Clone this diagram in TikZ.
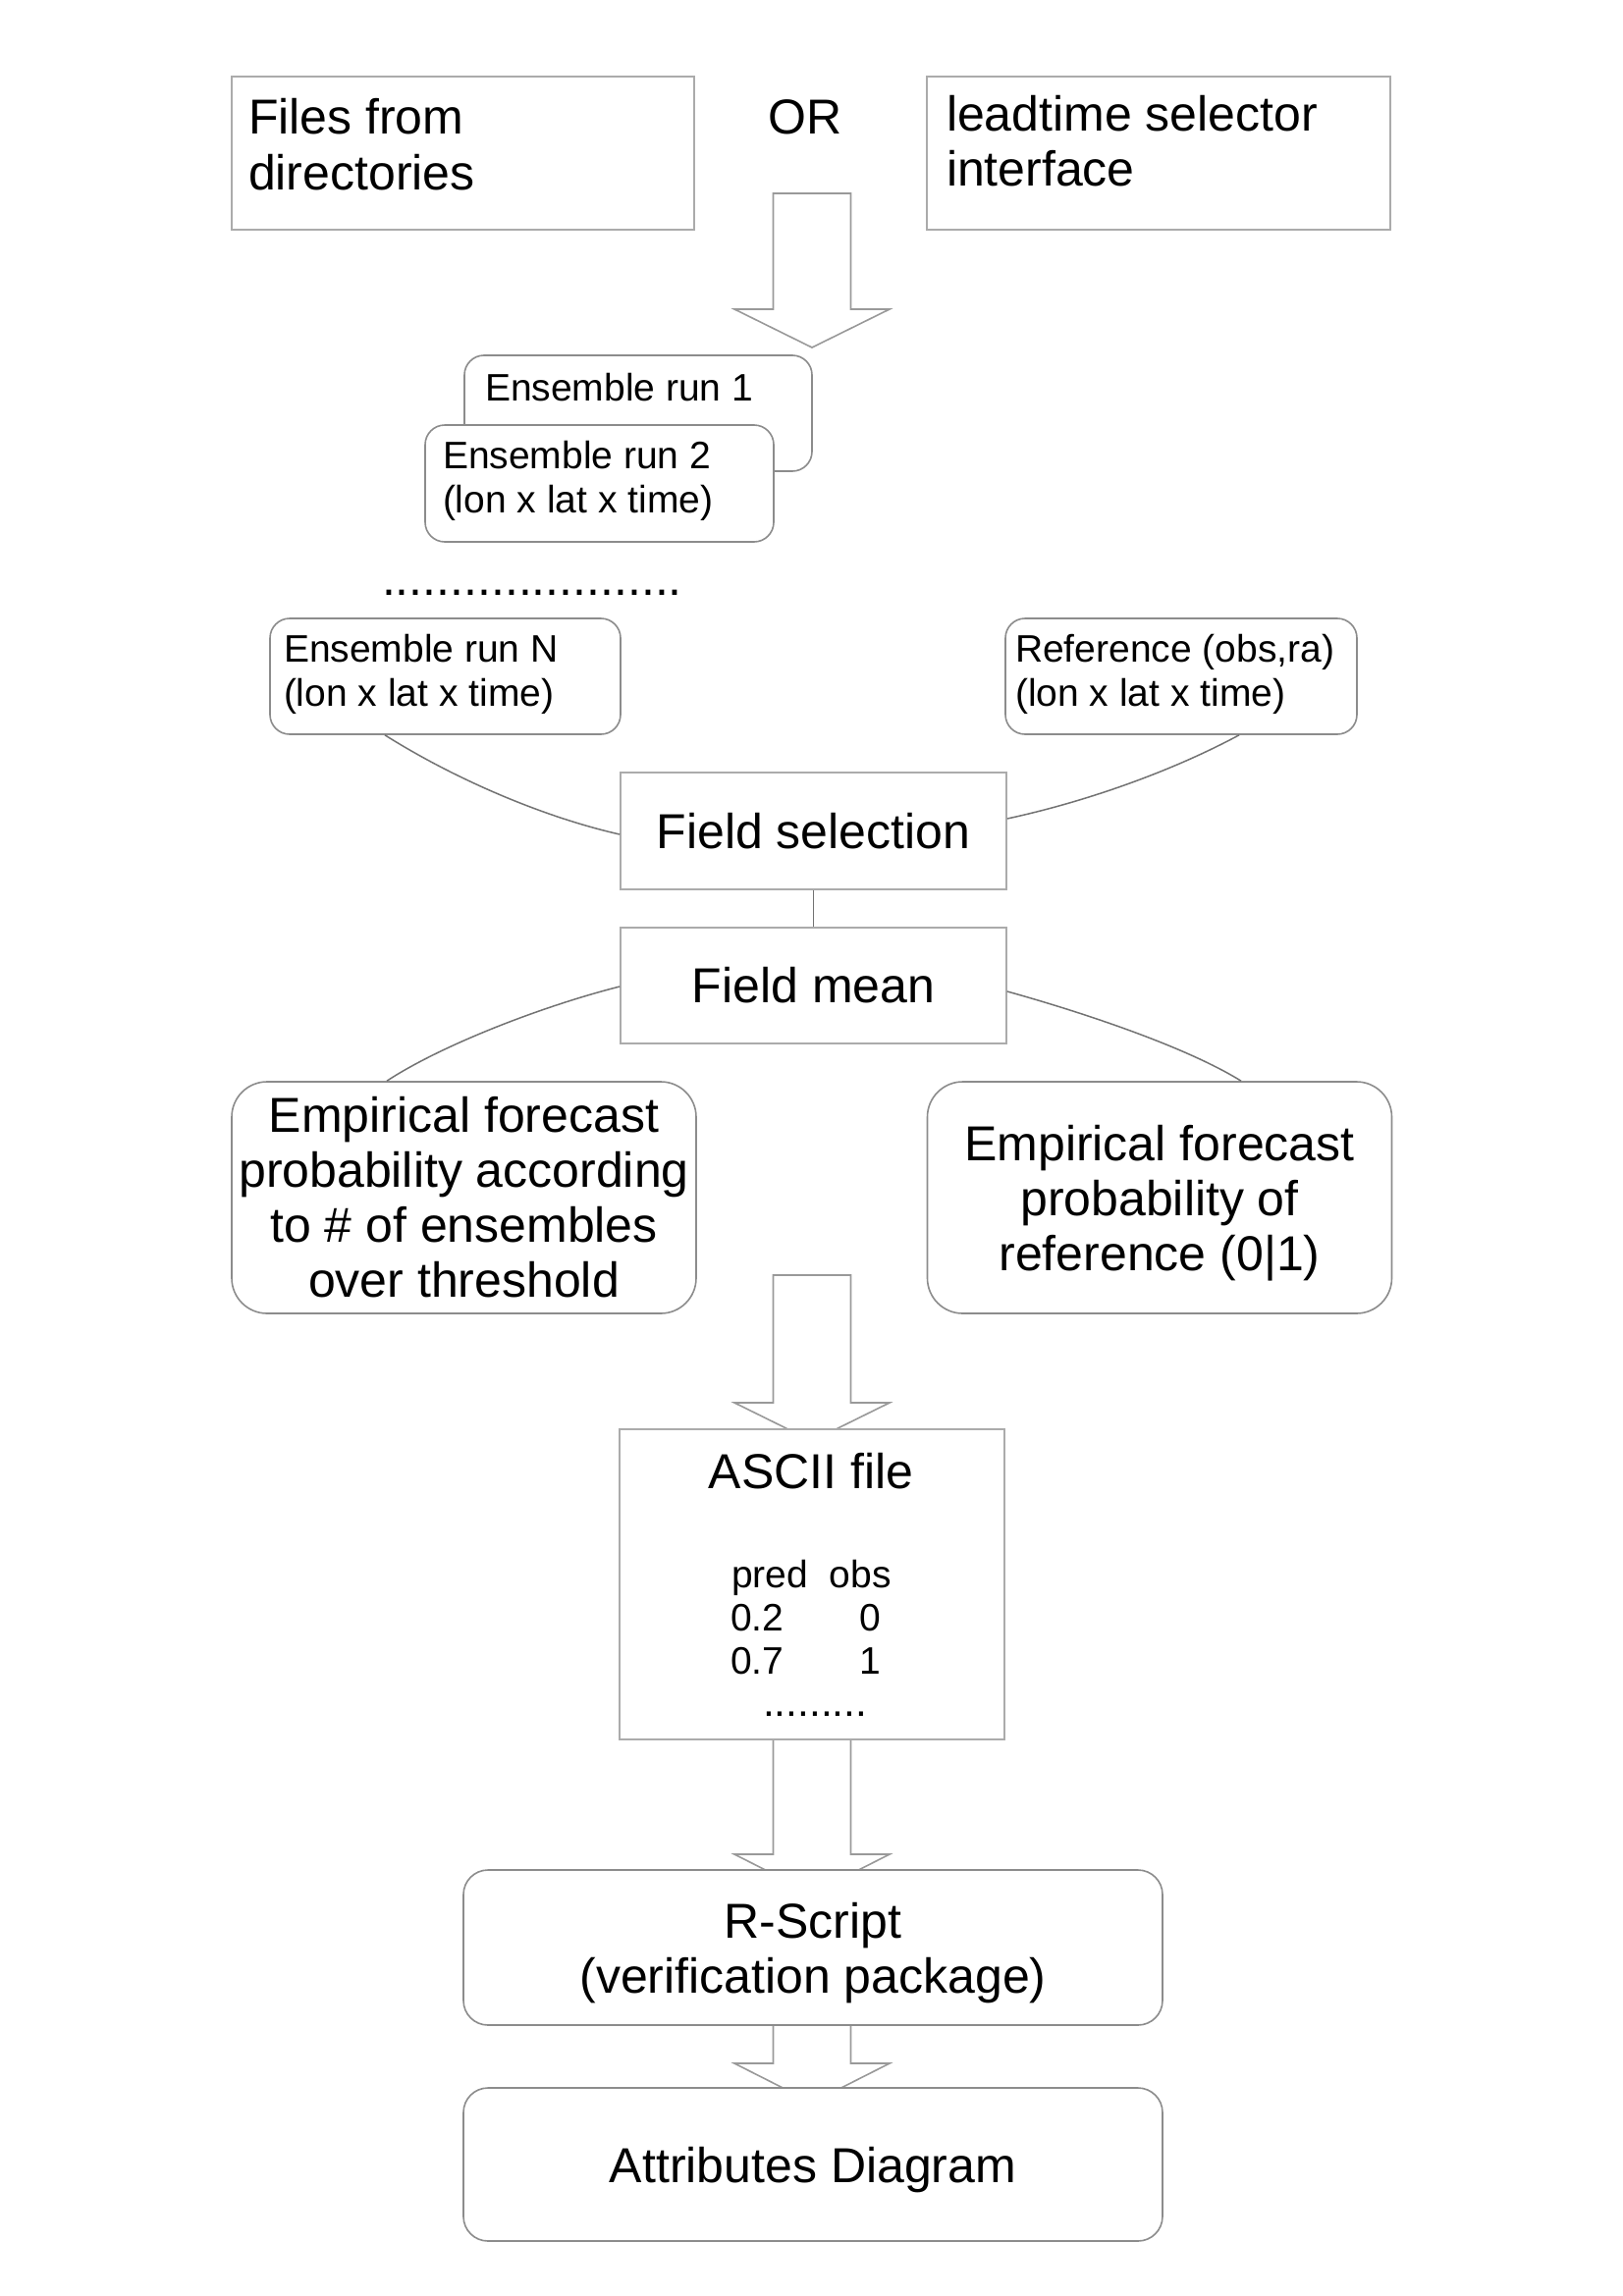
\documentclass[tikz,border=0pt]{standalone}
\usepackage{fontspec}
\setmainfont{Liberation Sans}
\usetikzlibrary{calc}
\pgfdeclarelayer{bg}
\pgfsetlayers{bg,main}
\newcommand\twolines[2]{\vtop{\hbox{#1}\hbox{#2}}}
\newcommand\blockarr[4]{%
  \begin{pgfonlayer}{bg}
  \draw[barrow] (#1-39.5,#2) -- (#1+39.5,#2) -- (#1+39.5,#3) -- (#1+79,#3)
     -- (#1,#4) -- (#1-79,#3) -- (#1-39.5,#3) -- cycle;
  \end{pgfonlayer}}
\tikzset{
  sqbox/.style={draw=black!33, line width=1.6pt, fill=white, inner sep=0pt},
  rndbox/.style={draw=black!45, line width=1.6pt, fill=white, inner sep=0pt, rounded corners=20pt},
  bigtxt/.style={font=\fontsize{50}{56}\selectfont},
  smalltxt/.style={font=\fontsize{39}{45}\selectfont},
  conn/.style={draw=black!55, line width=1.5pt},
  barrow/.style={draw=black!40, line width=1.6pt, fill=white, line join=miter},
  plain/.style={inner sep=0pt, outer sep=0pt}
}
\begin{document}
\begin{tikzpicture}[x=1pt,y=-1pt]
\useasboundingbox (0,0) rectangle (1653,2339);
\begin{pgfonlayer}{bg}
\fill[white] (0,0) rectangle (1653,2339);
\end{pgfonlayer}

% top row
\node[sqbox, minimum width=471pt, minimum height=156pt] (files) at (471.5,156) {};
\node[plain, bigtxt, anchor=base west] (filesT) at (253,137) {\twolines{Files from}{directories}};
\node[plain, bigtxt, anchor=base] (orT) at (820,137) {OR};
\node[sqbox, minimum width=472pt, minimum height=156pt] (lead) at (1180,156) {};
\node[plain, bigtxt, anchor=base west] (leadT) at (964,134) {\twolines{leadtime selector}{interface}};

% block arrow 1
\blockarr{827}{197}{315}{354}

% ensemble runs
\node[rndbox, minimum width=354pt, minimum height=118pt] (ens1) at (650,421) {};
\node[plain, smalltxt, anchor=base west] (ens1T) at (494,408) {Ensemble run 1};
\node[rndbox, minimum width=355pt, minimum height=119pt] (ens2) at (610.5,492.5) {};
\node[plain, smalltxt, anchor=base west] (ens2T) at (451,477) {\twolines{Ensemble run 2}{(lon x lat x time)}};

\node[plain, anchor=base west, font=\fontsize{50}{56}\selectfont] (dots) at (389,606) {......................};

\node[rndbox, minimum width=357pt, minimum height=118pt] (ensN) at (453.5,689) {};
\node[plain, smalltxt, anchor=base west] (ensNT) at (289,674) {\twolines{Ensemble run N}{(lon x lat x time)}};
\node[rndbox, minimum width=358pt, minimum height=118pt] (ref) at (1203,689) {};
\node[plain, smalltxt, anchor=base west] (refT) at (1034,674) {\twolines{Reference (obs,ra)}{(lon x lat x time)}};

% field selection / mean
\node[sqbox, bigtxt, minimum width=393pt, minimum height=119pt] (fsel) at (828.5,846.5) {Field selection};
\node[sqbox, bigtxt, minimum width=393pt, minimum height=118pt] (fmean) at (828.5,1004) {Field mean};

\draw[conn] ($(ensN.south)+(-61.5,0)$) .. controls (462,793) and (552,832) .. ($(fsel.west)+(0,3.5)$);
\draw[conn] ($(ref.south)+(59,0)$) .. controls (1193,786) and (1105,817) .. ($(fsel.east)+(0,-12.5)$);
\draw[conn] (fsel.south) -- (fmean.north);

% empirical boxes
\node[rndbox, rounded corners=36pt, bigtxt, align=center, minimum width=473pt, minimum height=236pt] (empL) at (472.5,1220)
  {Empirical forecast\\probability according\\to \# of ensembles\\over threshold};
\node[rndbox, rounded corners=36pt, bigtxt, align=center, minimum width=473pt, minimum height=236pt] (empR) at (1181,1220)
  {Empirical forecast\\probability of\\\smash{reference (0|1)}};

\draw[conn] ($(fmean.west)+(0,1)$) .. controls (552,1025) and (449,1065) .. ($(empL.north)+(-78.5,0)$);
\draw[conn] ($(fmean.east)+(0,6)$) .. controls (1105,1032) and (1209,1067) .. ($(empR.north)+(83,0)$);

% block arrow 2
\blockarr{827}{1299}{1429}{1468}

% ASCII file
\node[sqbox, minimum width=392pt, minimum height=316pt] (ascii) at (827,1614) {};
\node[plain, bigtxt, anchor=base] (asciiT) at (826,1516) {ASCII file};
\node[plain, smalltxt, anchor=base west] (predobs) at (745,1617) {pred~~obs};
\node[plain, smalltxt, anchor=base west] (v1) at (744,1661) {0.2};
\node[plain, smalltxt, anchor=base west] (o1) at (875,1661) {0};
\node[plain, smalltxt, anchor=base west] (v2) at (744,1705) {0.7};
\node[plain, smalltxt, anchor=base west] (o2) at (875,1705) {1};
\node[plain, anchor=base west, font=\fontsize{42.5}{45}\selectfont] (adots) at (777,1748) {.........};

% block arrows 3, 4
\blockarr{827}{1772}{1889}{1929}
\blockarr{827}{2063}{2102}{2142}

% R-Script / Attributes
\node[rndbox, rounded corners=25pt, bigtxt, align=center, minimum width=712pt, minimum height=158pt] (rscript) at (828,1984)
  {R-Script\\\smash{(verification package)}};
\node[rndbox, rounded corners=25pt, bigtxt, text depth=0pt, minimum width=712pt, minimum height=156pt] (attr) at (828,2205)
  {Attributes Diagram};
\end{tikzpicture}
\end{document}
